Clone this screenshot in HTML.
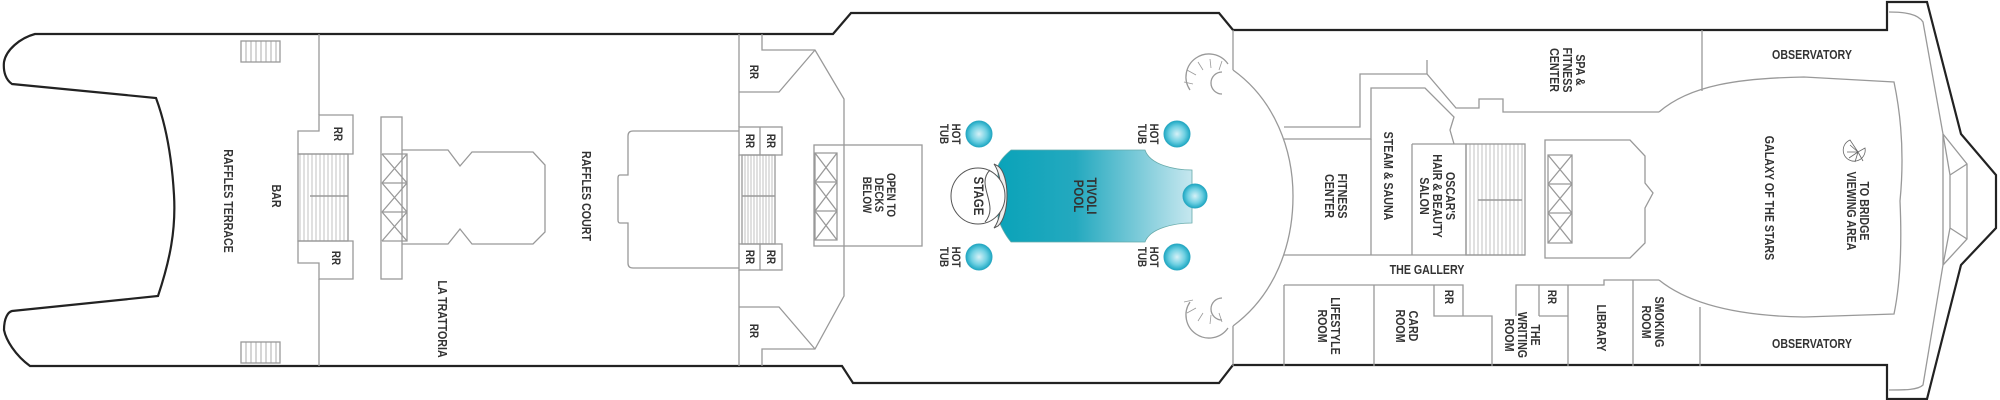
<!DOCTYPE html>
<html><head><meta charset="utf-8"><style>
html,body{margin:0;padding:0;background:#fff;}
svg{display:block;}
text{font-family:"Liberation Sans Narrow","Liberation Sans",sans-serif;font-weight:bold;font-size:13px;fill:#333;}
.s{font-size:12px;}
</style></head><body>
<svg width="2000" height="400" viewBox="0 0 2000 400" xmlns="http://www.w3.org/2000/svg">
<defs>
<linearGradient id="pg" x1="0" x2="1" y1="0" y2="0">
<stop offset="0" stop-color="#0aa3b9"/><stop offset="0.4" stop-color="#24a9bf"/><stop offset="1" stop-color="#c6e7ef"/>
</linearGradient>
<radialGradient id="tg"><stop offset="0" stop-color="#d6f1f7"/><stop offset="0.6" stop-color="#6fd0e2"/><stop offset="1" stop-color="#1fa9c4"/></radialGradient>
</defs>
<g fill="none" stroke="#222" stroke-width="2.2">
<path d="M35,34 L833,34 L851,13 L1219,13 L1233,30 L1887,30 L1887,2 L1927,2 L1961,134 L1996,175 L1996,228 L1961,265 L1927,399 L1887,399 L1887,365 L1233,365 L1219,383 L853,383 L842,366 L30,366 C15,355 6,340 4,330 C4,318 8,312 12,311 L158,296 C170,260 176,230 174,195 C172,160 166,125 156,98 L12,84 C6,80 3,72 4,62 C6,50 20,38 35,34 Z"/>
</g>
<g fill="none" stroke="#999" stroke-width="1.3">
<path d="M1889,12 C1905,12 1918,14 1923,22 L1943,134 L1943,265 L1923,385 C1918,390 1905,390 1889,390"/>
<path d="M1943,134 L1967,164 L1967,239 L1943,265 M1943,134 L1950,175 L1950,228 L1943,265 M1950,175 L1967,164 M1950,228 L1967,239"/>
<rect x="241" y="41" width="39" height="21"/><rect x="241" y="342" width="39" height="21"/>
<path d="M246,41v21M251,41v21M256,41v21M261,41v21M266,41v21M271,41v21M276,41v21M246,342v21M251,342v21M256,342v21M261,342v21M266,342v21M271,342v21M276,342v21" stroke-width="0.8"/>
<path d="M319,34 V115 M319,279 V366"/>
<path d="M298,131 L319,131 L319,115 L353,115 L353,154 L298,154 Z"/>
<path d="M298,241 L353,241 L353,279 L319,279 L319,263 L298,263 Z"/>
<rect x="298" y="154" width="50" height="87"/>
<path d="M300,154v87M304,154v87M308,154v87M312,154v87M316,154v87M320,154v87M324,154v87M328,154v87M332,154v87M336,154v87M340,154v87M344,154v87" stroke-width="0.6"/>
<path d="M310,196 H348" stroke-width="1.5"/>
<rect x="381" y="117" width="21" height="162"/>
<path d="M382,154 H407 V241 H382 M382,183 H407 M382,212 H407 M382,154 L407,183 M407,154 L382,183 M382,183 L407,212 M407,183 L382,212 M382,212 L407,241 M407,212 L382,241"/>
<path d="M402,150 L448,150 L460,166 L472,152 L533,152 L545,165 L545,232 L533,244 L472,244 L460,229 L448,244 L402,244"/>
<path d="M739,131 L633,131 Q628,131 628,136 L628,175 L620,175 Q618,175 618,178 L618,220 Q618,223 620,223 L628,223 L628,263 Q628,268 633,268 L739,268"/>
<path d="M739,34 V127 M739,155 V244 M739,270 V366"/>
<path d="M762,34 L762,50 L815,50 L844,99 L844,296 L815,349 L762,349 L762,366"/>
<path d="M739,92 L779,92 L815,50 M739,307 L779,307 L815,349"/>
<rect x="739" y="127" width="43" height="28"/><path d="M760,127 V155"/>
<rect x="739" y="244" width="43" height="26"/><path d="M760,244 V270"/>
<rect x="742" y="155" width="33" height="89"/>
<path d="M745,155v89M748,155v89M751,155v89M754,155v89M757,155v89M760,155v89M763,155v89M766,155v89M769,155v89M772,155v89" stroke-width="0.6"/>
<path d="M742,196 H775" stroke-width="1.5"/>
<rect x="814" y="145" width="108" height="101"/>
<path d="M815,153 H837 V240 H815 Z M815,182 H837 M815,211 H837 M815,153 L837,182 M837,153 L815,182 M815,182 L837,211 M837,182 L815,211 M815,211 L837,240 M837,211 L815,240"/>
<path d="M1233,70 C1275,100 1293,150 1293,196 C1293,245 1275,295 1233,326"/>
<path d="M1233,30 V70 M1233,326 V366"/>
<!-- C-shaped stairs -->
<path d="M1222,72 A11,11 0 1 0 1222,94 M1228,64 A22,22 0 0 0 1190,90"/>
<path d="M1222,298 A11,11 0 1 0 1222,320 M1190,302 A22,22 0 0 0 1228,328"/>
<path d="M1196,75 L1187,70 M1203,70 L1198,62 M1211,68 L1210,59 M1219,70 L1222,61 M1193,84 L1184,82 M1196,308 L1187,313 M1203,313 L1198,321 M1211,315 L1210,324 M1219,313 L1222,322 M1193,300 L1184,302" stroke-width="0.8"/>
<path d="M1284,127 H1360 V74 H1427 L1456,108 L1479,108 L1479,99 L1503,99 L1503,112 L1659,112"/>
<path d="M1427,74 V60"/>
<path d="M1284,139 H1371 V88 H1425 L1454,117 L1450,130 L1454,144"/>
<path d="M1284,255 H1525"/>
<path d="M1284,285 V366 M1284,285 H1434"/>
<path d="M1371,139 V255 M1412,144 V255 M1412,144 H1466 V255"/>
<rect x="1466" y="144" width="59" height="111"/>
<path d="M1470,144v111M1474,144v111M1478,144v111M1482,144v111M1486,144v111M1490,144v111M1494,144v111M1498,144v111M1502,144v111M1506,144v111M1510,144v111M1514,144v111M1518,144v111M1522,144v111" stroke-width="0.6"/>
<path d="M1478,200 H1522" stroke-width="1.5"/>
<path d="M1545,140 L1630,140 L1645,156 L1645,183 L1653,193 L1645,208 L1645,243 L1630,258 L1545,258 Z"/>
<path d="M1548,155 H1572 V243 H1548 Z M1548,184 H1572 M1548,213 H1572 M1548,155 L1572,184 M1572,155 L1548,184 M1548,184 L1572,213 M1572,184 L1548,213 M1548,213 L1572,243 M1572,213 L1548,243"/>
<path d="M1374,285 V366 M1434,285 V316 H1492 V366 M1434,285 H1463 V316"/>
<path d="M1516,316 V285 H1568 V316 H1539 M1539,285 V316 M1568,285 V366 M1568,285 H1604 V280 H1659 M1633,280 V366 M1700,307 V366"/>
<path d="M1702,30 V91"/>
<path d="M1659,112 C1690,85 1740,78 1804,77 L1894,82 C1902,120 1904,160 1900,201 C1902,245 1900,285 1894,314 L1804,317 C1740,316 1690,305 1659,280"/>
</g>
<path d="M1011,150 L1145,150 C1150,165 1175,170 1192,170 L1192,223 C1175,223 1150,228 1145,242 L1011,242 C1005,235 1000,225 998,218 L998,166 C1000,160 1005,155 1011,150 Z" fill="url(#pg)" stroke="#6aa" stroke-width="0.8"/>
<g fill="#fff" stroke="#555" stroke-width="1">
<path d="M998,166 C1010,175 1010,215 998,226 L994,228 C1004,215 1004,178 994,164 Z" fill="#eee"/>
<ellipse cx="978" cy="196" rx="27" ry="28"/>
</g>
<path d="M990,170 C975,185 1000,205 985,222" fill="none" stroke="#555"/>
<g fill="url(#tg)" stroke="#2aa8c2" stroke-width="1">
<circle cx="979" cy="134" r="13"/><circle cx="1177" cy="134" r="13"/>
<circle cx="979" cy="257" r="13"/><circle cx="1177" cy="257" r="13"/>
<circle cx="1195" cy="196" r="12"/>
</g>
<g fill="none" stroke="#666" stroke-width="0.8">
<path d="M1865,148 A11,11 0 1 1 1850,140 L1858,152 Z"/><path d="M1858,152 L1847,152 M1858,152 L1849,158 M1858,152 L1855,162 M1858,152 L1863,161 M1858,152 L1850,145"/>
</g>
<g text-anchor="middle">
<text transform="translate(228,201) rotate(90) scale(0.82,1)" dy="4">RAFFLES TERRACE</text>
<text transform="translate(276,196) rotate(90) scale(0.82,1)" dy="4">BAR</text>
<text transform="translate(338,134) rotate(90) scale(0.82,1)" dy="4" class="s">RR</text>
<text transform="translate(336,258) rotate(90) scale(0.82,1)" dy="4" class="s">RR</text>
<text transform="translate(586,196) rotate(90) scale(0.82,1)" dy="4">RAFFLES COURT</text>
<text transform="translate(442,319) rotate(90) scale(0.82,1)" dy="4">LA TRATTORIA</text>
<text transform="translate(754,72) rotate(90) scale(0.82,1)" dy="4" class="s">RR</text>
<text transform="translate(754,331) rotate(90) scale(0.82,1)" dy="4" class="s">RR</text>
<text transform="translate(750,141) rotate(90) scale(0.82,1)" dy="4" class="s">RR</text>
<text transform="translate(771,141) rotate(90) scale(0.82,1)" dy="4" class="s">RR</text>
<text transform="translate(750,257) rotate(90) scale(0.82,1)" dy="4" class="s">RR</text>
<text transform="translate(771,257) rotate(90) scale(0.82,1)" dy="4" class="s">RR</text>
<text transform="translate(878,195) rotate(90) scale(0.82,1)" class="s"><tspan x="0" dy="-9">OPEN TO</tspan><tspan x="0" dy="12">DECKS</tspan><tspan x="0" dy="12">BELOW</tspan></text>
<text transform="translate(950,134) rotate(90) scale(0.82,1)" class="s"><tspan x="0" dy="-2">HOT</tspan><tspan x="0" dy="12">TUB</tspan></text>
<text transform="translate(950,257) rotate(90) scale(0.82,1)" class="s"><tspan x="0" dy="-2">HOT</tspan><tspan x="0" dy="12">TUB</tspan></text>
<text transform="translate(1148,134) rotate(90) scale(0.82,1)" class="s"><tspan x="0" dy="-2">HOT</tspan><tspan x="0" dy="12">TUB</tspan></text>
<text transform="translate(1148,257) rotate(90) scale(0.82,1)" class="s"><tspan x="0" dy="-2">HOT</tspan><tspan x="0" dy="12">TUB</tspan></text>
<text transform="translate(978,196) rotate(90) scale(0.82,1)" dy="4" style="font-size:14px">STAGE</text>
<text transform="translate(1085,196) rotate(90) scale(0.82,1)" style="font-size:14px"><tspan x="0" dy="-2">TIVOLI</tspan><tspan x="0" dy="13">POOL</tspan></text>
<text transform="translate(1336,196) rotate(90) scale(0.82,1)"><tspan x="0" dy="-2">FITNESS</tspan><tspan x="0" dy="13">CENTER</tspan></text>
<text transform="translate(1568,70) rotate(90) scale(0.82,1)"><tspan x="0" dy="-8">SPA &amp;</tspan><tspan x="0" dy="13">FITNESS</tspan><tspan x="0" dy="13">CENTER</tspan></text>
<text transform="translate(1812,59) scale(0.82,1)">OBSERVATORY</text>
<text transform="translate(1812,348) scale(0.82,1)">OBSERVATORY</text>
<text transform="translate(1769,198) rotate(90) scale(0.82,1)" dy="4">GALAXY OF THE STARS</text>
<text transform="translate(1858,211) rotate(90) scale(0.82,1)"><tspan x="0" dy="-2">TO BRIDGE</tspan><tspan x="0" dy="13">VIEWING AREA</tspan></text>
<text transform="translate(1388,176) rotate(90) scale(0.82,1)" dy="4">STEAM &amp; SAUNA</text>
<text transform="translate(1438,196) rotate(90) scale(0.82,1)"><tspan x="0" dy="-8">OSCAR'S</tspan><tspan x="0" dy="13">HAIR &amp; BEAUTY</tspan><tspan x="0" dy="13">SALON</tspan></text>
<text transform="translate(1427,274) scale(0.82,1)">THE GALLERY</text>
<text transform="translate(1329,326) rotate(90) scale(0.82,1)"><tspan x="0" dy="-2">LIFESTYLE</tspan><tspan x="0" dy="13">ROOM</tspan></text>
<text transform="translate(1407,326) rotate(90) scale(0.82,1)"><tspan x="0" dy="-2">CARD</tspan><tspan x="0" dy="13">ROOM</tspan></text>
<text transform="translate(1449,297) rotate(90) scale(0.82,1)" dy="4" class="s">RR</text>
<text transform="translate(1552,297) rotate(90) scale(0.82,1)" dy="4" class="s">RR</text>
<text transform="translate(1523,335) rotate(90) scale(0.82,1)"><tspan x="0" dy="-8">THE</tspan><tspan x="0" dy="13">WRITING</tspan><tspan x="0" dy="13">ROOM</tspan></text>
<text transform="translate(1601,328) rotate(90) scale(0.82,1)" dy="4">LIBRARY</text>
<text transform="translate(1653,322) rotate(90) scale(0.82,1)"><tspan x="0" dy="-2">SMOKING</tspan><tspan x="0" dy="13">ROOM</tspan></text>
</g>
</svg>
</body></html>
